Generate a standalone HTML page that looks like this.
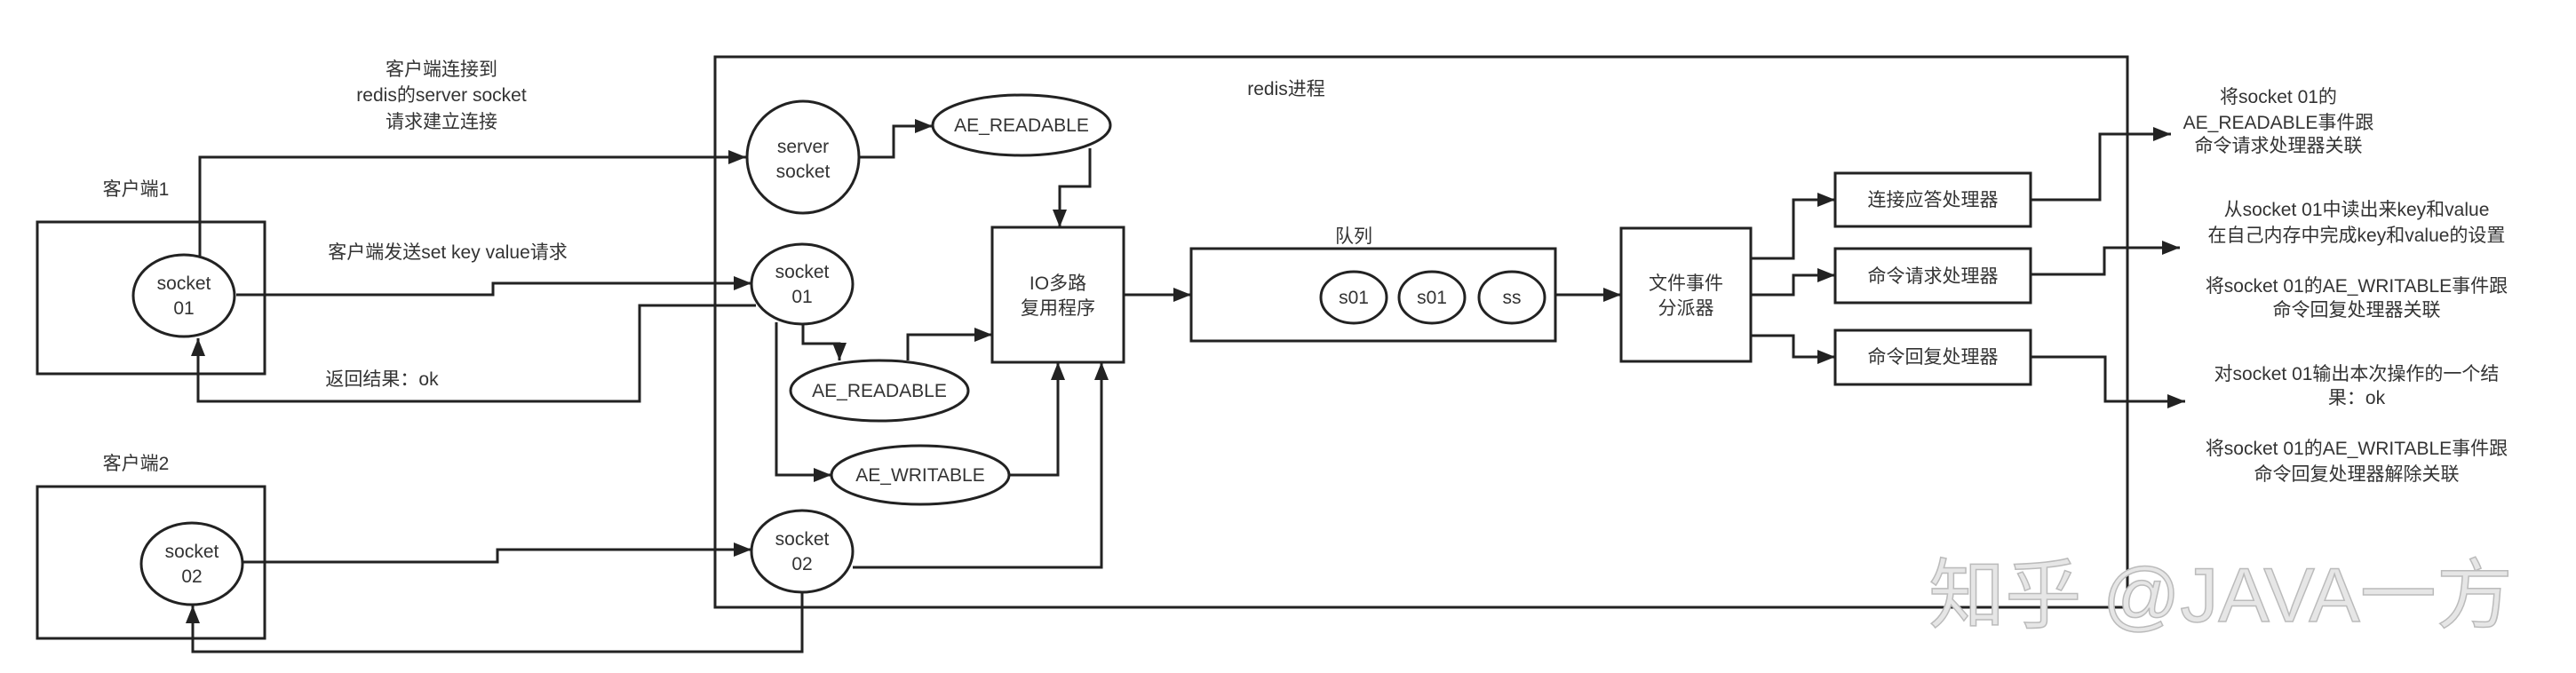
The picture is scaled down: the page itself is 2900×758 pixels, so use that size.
<!DOCTYPE html>
<html><head><meta charset="utf-8"><style>
html,body{margin:0;padding:0;background:#fff;}
svg{display:block;}
text{font-family:"Liberation Sans","Noto Sans CJK SC",sans-serif;font-size:21px;fill:#333;text-anchor:middle;}
</style></head><body>
<svg width="2900" height="758" viewBox="0 0 2900 758" xmlns="http://www.w3.org/2000/svg">
<defs><marker id="a" markerWidth="10" markerHeight="10" refX="9" refY="5" orient="auto" markerUnits="userSpaceOnUse" viewBox="0 0 10 10"><path d="M0,0 L10,5 L0,10 z" fill="#222"/></marker>
<marker id="b" markerWidth="20" markerHeight="16" refX="20" refY="8" orient="auto" markerUnits="userSpaceOnUse"><path d="M0,0 L20,8 L0,16 z" fill="#222"/></marker></defs>
<g fill="none" stroke="#222" stroke-width="3">
<rect x="805" y="64" width="1590" height="620"/>
<rect x="42" y="250" width="256" height="171"/>
<rect x="42" y="548" width="256" height="171"/>
<ellipse cx="207" cy="333" rx="57" ry="46" fill="#fff"/>
<ellipse cx="216" cy="635" rx="57" ry="46" fill="#fff"/>
<ellipse cx="904" cy="177" rx="63" ry="63" fill="#fff"/>
<ellipse cx="1150" cy="141" rx="100" ry="34" fill="#fff"/>
<ellipse cx="903" cy="320" rx="57" ry="45" fill="#fff"/>
<ellipse cx="990" cy="440" rx="100" ry="34" fill="#fff"/>
<ellipse cx="1036" cy="535" rx="100" ry="33" fill="#fff"/>
<ellipse cx="903" cy="621" rx="57" ry="46" fill="#fff"/>
<rect x="1117" y="256" width="148" height="152"/>
<rect x="1341" y="280" width="410" height="104"/>
<ellipse cx="1524" cy="335" rx="37" ry="29"/>
<ellipse cx="1612" cy="335" rx="37" ry="29"/>
<ellipse cx="1702" cy="335" rx="37" ry="29"/>
<rect x="1825" y="257" width="146" height="150"/>
<rect x="2066" y="195" width="220" height="60"/>
<rect x="2066" y="280" width="220" height="61"/>
<rect x="2066" y="372" width="220" height="61"/>
<g marker-end="url(#b)">
<polyline points="225,288 225,177 840,177"/>
<polyline points="967,177 1006,177 1006,142 1050,142"/>
<polyline points="1227,167 1227,210 1193,210 1193,256"/>
<polyline points="266,332 555,332 555,319 846,319"/>
<polyline points="851,344 720,344 720,452 223,452 223,381"/>
<polyline points="904,365 904,387 945,387 945,406"/>
<polyline points="1022,406 1022,377 1117,377"/>
<polyline points="874,363 874,535 936,535"/>
<polyline points="1136,535 1191,535 1191,408"/>
<polyline points="960,639 1240,639 1240,408"/>
<polyline points="274,633 560,633 560,619 846,619"/>
<polyline points="903,667 903,734 217,734 217,682"/>
<polyline points="1265,332 1341,332"/>
<polyline points="1751,332 1825,332"/>
<polyline points="1971,291 2019,291 2019,225 2066,225"/>
<polyline points="1971,332 2019,332 2019,310 2066,310"/>
<polyline points="1971,378 2019,378 2019,402 2066,402"/>
<polyline points="2286,225 2364,225 2364,151 2444,151"/>
<polyline points="2286,309 2369,309 2369,279 2454,279"/>
<polyline points="2286,402 2370,402 2370,452 2460,452"/>
</g>
</g>
<text x="497" y="85">客户端连接到</text>
<text x="497" y="114">redis的server socket</text>
<text x="497" y="144">请求建立连接</text>
<text x="153" y="220">客户端1</text>
<text x="153" y="529">客户端2</text>
<text x="207" y="326">socket</text><text x="207" y="354">01</text>
<text x="216" y="628">socket</text><text x="216" y="656">02</text>
<text x="504" y="291">客户端发送set key value请求</text>
<text x="430" y="434">返回结果：ok</text>
<text x="1448" y="107">redis进程</text>
<text x="904" y="172">server</text><text x="904" y="200">socket</text>
<text x="1150" y="148">AE_READABLE</text>
<text x="903" y="313">socket</text><text x="903" y="341">01</text>
<text x="990" y="447">AE_READABLE</text>
<text x="1036" y="542">AE_WRITABLE</text>
<text x="903" y="614">socket</text><text x="903" y="642">02</text>
<text x="1191" y="326">IO多路</text><text x="1191" y="354">复用程序</text>
<text x="1524" y="273">队列</text>
<text x="1524" y="342">s01</text><text x="1612" y="342">s01</text><text x="1702" y="342">ss</text>
<text x="1898" y="326">文件事件</text><text x="1898" y="354">分派器</text>
<text x="2176" y="232">连接应答处理器</text>
<text x="2176" y="318">命令请求处理器</text>
<text x="2176" y="409">命令回复处理器</text>
<text x="2565" y="116">将socket 01的</text>
<text x="2565" y="145">AE_READABLE事件跟</text>
<text x="2565" y="171">命令请求处理器关联</text>
<text x="2653" y="243">从socket 01中读出来key和value</text>
<text x="2653" y="272">在自己内存中完成key和value的设置</text>
<text x="2653" y="329">将socket 01的AE_WRITABLE事件跟</text>
<text x="2653" y="356">命令回复处理器关联</text>
<text x="2653" y="428">对socket 01输出本次操作的一个结</text>
<text x="2653" y="455">果：ok</text>
<text x="2653" y="512">将socket 01的AE_WRITABLE事件跟</text>
<text x="2653" y="541">命令回复处理器解除关联</text>
<text x="2500" y="700" style="font-size:86px;fill:#e6e6e6;stroke:#bbb;stroke-width:1.5">知乎 @JAVA一方</text>
</svg>
</body></html>
